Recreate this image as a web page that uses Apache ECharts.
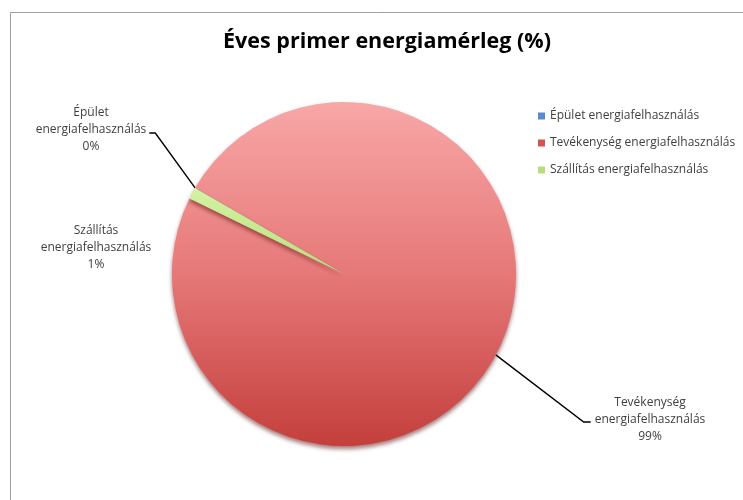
<!DOCTYPE html>
<html>
<head>
<meta charset="utf-8">
<script src="https://cdn.jsdelivr.net/npm/echarts@6/dist/echarts.min.js"></script>
<style>html,body{margin:0;padding:0;background:#fff}#c{width:743px;height:500px}</style>
</head>
<body>
<div id="c"></div>
<script>
var categories = ['Épület energiafelhasználás', 'Tevékenység energiafelhasználás', 'Szállítás energiafelhasználás'];
var values = [0.02, 98.88, 1.1];
var titleText = 'Éves primer energiamérleg (%)';

var sliceColors = [
  {type:'linear',x:0,y:0,x2:0,y2:1,colorStops:[{offset:0,color:'#7fa6dc'},{offset:1,color:'#3f6fb0'}]},
  {type:'linear',x:0,y:0,x2:0,y2:1,colorStops:[{offset:0,color:'#f8a7a7'},{offset:0.5,color:'#e67878'},{offset:1,color:'#c43f3c'}]},
  {type:'linear',x:0,y:0,x2:0,y2:1,colorStops:[{offset:0,color:'#d4f2a4'},{offset:1,color:'#b9de7c'}]}
];
var legendColors = ['#5a8ad0', '#d9514e', '#b8dc7c'];

var labelPos = [
  {x: 91, y: 130},
  {x: 650, y: 420},
  {x: 96, y: 248}
];

var chart = echarts.init(document.getElementById('c'));
chart.setOption({
  animation: false,
  backgroundColor: '#fff',
  textStyle: {fontFamily: 'Open Sans'},
  graphic: [{
    type: 'rect', silent: true,
    shape: {x: 10.5, y: 12.5, width: 800, height: 600},
    style: {fill: 'none', stroke: '#a0a0a0', lineWidth: 1}
  }],
  title: {
    text: titleText, left: 382, top: 26, textAlign: 'center',
    textStyle: {fontFamily: 'Open Sans', fontWeight: 'bold', fontSize: 21.5, color: '#000'}
  },
  legend: {
    orient: 'vertical', left: 533, top: 104,
    itemWidth: 7, itemHeight: 7, itemGap: 13,
    icon: 'rect',
    textStyle: {fontSize: 12, color: '#404040', lineHeight: 14, fontFamily: 'Open Sans'},
    data: categories.map(function (n, i) { return {name: n, itemStyle: {color: legendColors[i]}}; })
  },
  series: [{
    type: 'pie',
    center: [344, 274],
    radius: 172,
    startAngle: 150,
    clockwise: true,
    avoidLabelOverlap: false,
    itemStyle: {borderWidth: 0, shadowColor: 'rgba(90,10,10,0.55)', shadowBlur: 4, shadowOffsetY: 3},
    emphasis: {disabled: true},
    label: {
      show: true, position: 'outside',
      color: '#404040', fontSize: 12, lineHeight: 17, align: 'center', fontFamily: 'Open Sans',
      formatter: function (p) { return p.name.replace(' ', '\n') + '\n' + Math.round(p.percent) + '%'; }
    },
    labelLine: {show: true, lineStyle: {color: '#000', width: 1.4}},
    labelLayout: function (p) {
      var pos = labelPos[p.dataIndex];
      var r = {x: pos.x, y: pos.y, align: 'center', verticalAlign: 'middle'};
      var s = p.labelLinePoints ? p.labelLinePoints[0] : null;
      if (s) {
        if (p.dataIndex === 0) {
          var ex = pos.x + p.labelRect.width / 2 + 3;
          r.labelLinePoints = [s, [ex + 6, pos.y + 3], [ex, pos.y + 3]];
        } else if (p.dataIndex === 1) {
          var lx = pos.x - p.labelRect.width / 2 - 4;
          r.labelLinePoints = [s, [lx - 7, pos.y + 2], [lx, pos.y + 2]];
        } else {
          r.labelLinePoints = [s, s, s];
        }
      }
      return r;
    },
    data: categories.map(function (n, i) {
      var d = {name: n, value: values[i], itemStyle: {color: sliceColors[i]}};
      if (i === 2) d.labelLine = {show: false};
      return d;
    })
  }]
});
</script>
</body>
</html>
